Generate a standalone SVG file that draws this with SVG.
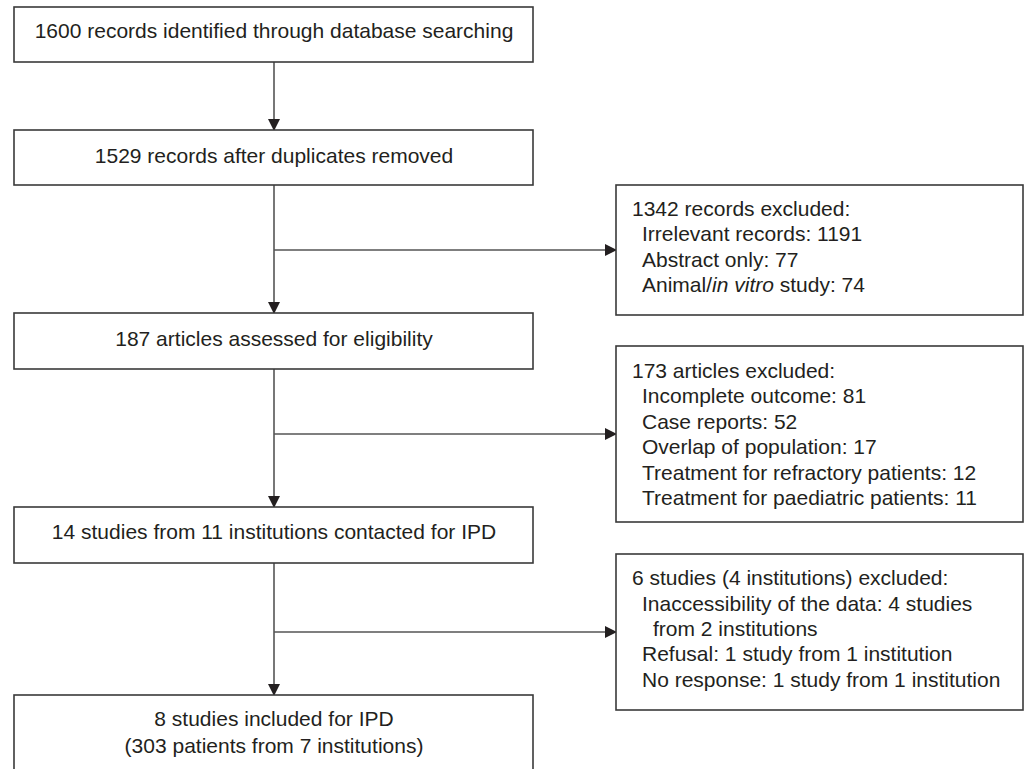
<svg xmlns="http://www.w3.org/2000/svg" width="1027" height="769" viewBox="0 0 1027 769">
<style>
.box{fill:#fff;stroke:#3a3a3a;stroke-width:1.6}
.t{font-family:"Liberation Sans",Arial,sans-serif;font-size:21px;fill:#231f20}
.c{text-anchor:middle}
.ln{fill:none;stroke:#555;stroke-width:1.6}
</style>
<defs>
<marker id="ah" markerWidth="12" markerHeight="12" viewBox="0 0 12 12" refX="11" refY="6" orient="auto" markerUnits="userSpaceOnUse">
<path d="M0,0 L12,6 L0,12 Z" fill="#231f20"/>
</marker>
</defs>
<rect width="1027" height="769" fill="#fff"/>
<g id="connectors">
<line class="ln" x1="274" y1="62" x2="274" y2="130" marker-end="url(#ah)"/>
<line class="ln" x1="274" y1="185" x2="274" y2="313" marker-end="url(#ah)"/>
<line class="ln" x1="274" y1="250" x2="616" y2="250" marker-end="url(#ah)"/>
<line class="ln" x1="274" y1="369" x2="274" y2="507" marker-end="url(#ah)"/>
<line class="ln" x1="274" y1="434" x2="616" y2="434" marker-end="url(#ah)"/>
<line class="ln" x1="274" y1="563" x2="274" y2="695" marker-end="url(#ah)"/>
<line class="ln" x1="274" y1="632" x2="616" y2="632" marker-end="url(#ah)"/>
</g>
<g id="n1">
<rect class="box" x="14" y="7" width="519" height="55"/>
<text class="t c" x="274" y="37.5">1600 records identified through database searching</text>
</g>
<g id="n2">
<rect class="box" x="14" y="130" width="519" height="55"/>
<text class="t c" x="274" y="162.5">1529 records after duplicates removed</text>
</g>
<g id="n3">
<rect class="box" x="14" y="313" width="519" height="56"/>
<text class="t c" x="274" y="345.5">187 articles assessed for eligibility</text>
</g>
<g id="n4">
<rect class="box" x="14" y="507" width="519" height="56"/>
<text class="t c" x="274" y="538.5">14 studies from 11 institutions contacted for IPD</text>
</g>
<g id="n5">
<rect class="box" x="14" y="695" width="519" height="90"/>
<text class="t c" x="274" y="725.5">8 studies included for IPD</text>
<text class="t c" x="274" y="752.5">(303 patients from 7 institutions)</text>
</g>
<g id="r1">
<rect class="box" x="616" y="185" width="407" height="130"/>
<text class="t" x="632" y="215.5">1342 records excluded:</text>
<text class="t" x="642" y="241">Irrelevant records: 1191</text>
<text class="t" x="642" y="266.5">Abstract only: 77</text>
<text class="t" x="642" y="292">Animal/<tspan font-style="italic">in vitro</tspan> study: 74</text>
</g>
<g id="r2">
<rect class="box" x="616" y="346" width="407" height="176"/>
<text class="t" x="632" y="377.5">173 articles excluded:</text>
<text class="t" x="642" y="403">Incomplete outcome: 81</text>
<text class="t" x="642" y="428.5">Case reports: 52</text>
<text class="t" x="642" y="454">Overlap of population: 17</text>
<text class="t" x="642" y="479.5">Treatment for refractory patients: 12</text>
<text class="t" x="642" y="505">Treatment for paediatric patients: 11</text>
</g>
<g id="r3">
<rect class="box" x="616" y="554" width="407" height="156"/>
<text class="t" x="632" y="584.5">6 studies (4 institutions) excluded:</text>
<text class="t" x="642" y="610.5">Inaccessibility of the data: 4 studies</text>
<text class="t" x="653" y="635.5">from 2 institutions</text>
<text class="t" x="642" y="660.5">Refusal: 1 study from 1 institution</text>
<text class="t" x="642" y="686.5">No response: 1 study from 1 institution</text>
</g>
</svg>
